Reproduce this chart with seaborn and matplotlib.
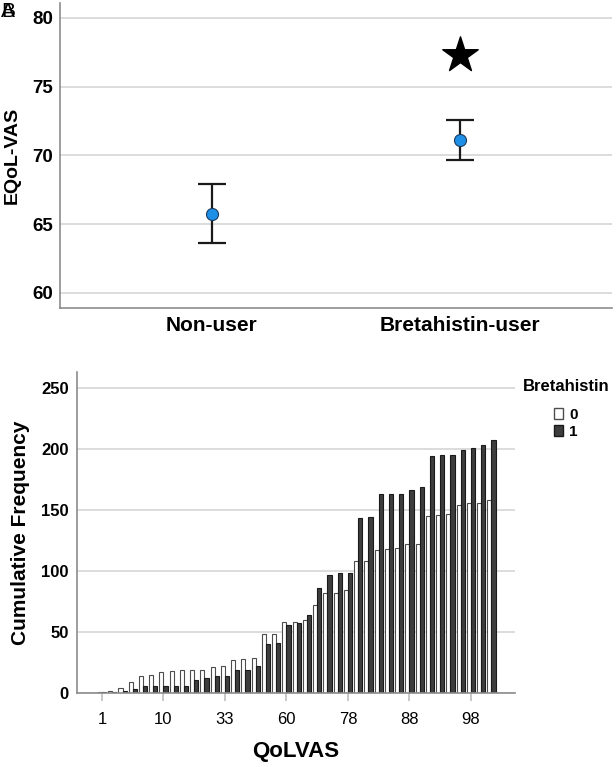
import numpy as np
import pandas as pd
import matplotlib
matplotlib.use("Agg")
import matplotlib.pyplot as plt
import matplotlib.patches as mpatches
import seaborn as sns

# ---------------- data: panel A ----------------
groups = ["Non-user", "Bretahistin-user"]
group_means = [65.75, 71.1]
ci_lower = [63.6, 69.65]
ci_upper = [67.9, 72.57]
star_y = 77.3

# ---------------- data: panel B ----------------
qolvas_tick_labels = ["1", "10", "33", "60", "78", "88", "98"]
qolvas_tick_index = [0, 6, 12, 18, 24, 30, 36]
cum_freq_0 = [1, 2, 4, 9, 14, 15, 17, 18, 19, 19, 19, 21, 22, 27, 28, 29, 48, 48, 58, 58,
              60, 72, 82, 82, 84, 108, 108, 117, 118, 119, 122, 122, 145, 146, 147, 154, 156, 156, 158]
cum_freq_1 = [1, 1, 2, 3, 6, 6, 6, 6, 6, 11, 12, 14, 14, 19, 19, 22, 40, 41, 56, 57,
              64, 86, 97, 98, 98, 143, 144, 163, 163, 163, 166, 169, 194, 195, 195, 199, 201, 203, 207]

sns.set_theme(style="white")
plt.rcParams["font.family"] = ["Liberation Sans", "DejaVu Sans"]
plt.rcParams["text.color"] = "black"
plt.rcParams["axes.labelcolor"] = "black"
plt.rcParams["xtick.color"] = "black"
plt.rcParams["ytick.color"] = "black"

fig = plt.figure(figsize=(6.16, 7.67), dpi=100)
W, H = 616, 767

def fig_rect(x0, y0, x1, y1):
    return [x0 / W, 1 - y1 / H, (x1 - x0) / W, (y1 - y0) / H]

GRID = "#d9d9d9"
SPINE = "#8c8c8c"

# ---------------- panel A ----------------
ax1 = fig.add_axes(fig_rect(60, 3, 612, 308))
dfa = pd.DataFrame({"group": groups, "mean": group_means,
                    "lo": ci_lower, "hi": ci_upper})
yerr = np.vstack([dfa["mean"] - dfa["lo"], dfa["hi"] - dfa["mean"]])
ax1.errorbar(dfa["group"], dfa["mean"], yerr=yerr, fmt="none", ecolor="#1a1a1a",
             elinewidth=1.6, capsize=10, capthick=1.6, zorder=2)
sns.scatterplot(data=dfa, x="group", y="mean", ax=ax1, s=75, color="#1e8fe6",
                edgecolor="#1b3a5c", linewidth=0.8, zorder=3, legend=False)
ax1.scatter([groups[1]], [star_y], marker="*", s=720, color="black", zorder=3)
ax1.set_xlim(-0.61, 1.61)
ax1.set_ylim(58.9, 81.07)
ax1.set_yticks([60, 65, 70, 75, 80])
ax1.yaxis.grid(True, color=GRID, linewidth=1.3)
ax1.set_axisbelow(True)
for s in ["top", "right"]:
    ax1.spines[s].set_visible(False)
for s in ["left", "bottom"]:
    ax1.spines[s].set_color(SPINE)
    ax1.spines[s].set_linewidth(1.2)
ax1.tick_params(axis="both", length=0)
ax1.tick_params(axis="y", labelsize=13.5, pad=5)
ax1.tick_params(axis="x", labelsize=15, pad=6)
for t in ax1.get_yticklabels() + ax1.get_xticklabels():
    t.set_fontweight("bold")
ax1.set_xlabel("")
ax1.set_ylabel("EQoL-VAS", fontsize=14, fontweight="bold", labelpad=8)

fig.text(0.002, 0.998, "A", fontsize=15, ha="left", va="top")
fig.text(0.002, 0.998, "B", fontsize=15, ha="left", va="top")

# ---------------- panel B ----------------
ax2 = fig.add_axes(fig_rect(77, 372, 515, 693))
n = len(cum_freq_0)
dfb = pd.DataFrame({
    "idx": list(range(n)) * 2,
    "Bretahistin": ["0"] * n + ["1"] * n,
    "freq": cum_freq_0 + cum_freq_1,
})
sns.barplot(data=dfb, x="idx", y="freq", hue="Bretahistin", ax=ax2,
            palette={"0": "white", "1": "#3d3d3d"}, width=0.8,
            linewidth=0.8, legend=False)
for cont, ec in zip(ax2.containers, ["#4d4d4d", "#1a1a1a"]):
    for p in cont:
        p.set_edgecolor(ec)
        p.set_linewidth(0.8)
ax2.set_xlim(-2.44, 40.3)
ax2.set_ylim(0, 263)
ax2.set_yticks([0, 50, 100, 150, 200, 250])
ax2.set_xticks(qolvas_tick_index)
ax2.set_xticklabels(qolvas_tick_labels)
ax2.yaxis.grid(True, color=GRID, linewidth=1.3)
ax2.set_axisbelow(True)
for s in ["top", "right"]:
    ax2.spines[s].set_visible(False)
for s in ["left", "bottom"]:
    ax2.spines[s].set_color(SPINE)
    ax2.spines[s].set_linewidth(1.2)
ax2.tick_params(axis="y", length=0, labelsize=12, pad=6)
ax2.tick_params(axis="x", length=6, color="#bfbfbf", width=1.2, labelsize=12,
                pad=8, bottom=True)
for t in ax2.get_yticklabels():
    t.set_fontweight("bold")
ax2.set_xlabel("QoLVAS", fontsize=16, fontweight="bold", labelpad=10)
ax2.set_ylabel("Cumulative Frequency", fontsize=15, fontweight="bold", labelpad=8)

handles = [mpatches.Patch(facecolor="white", edgecolor="#4d4d4d", label="0"),
           mpatches.Patch(facecolor="#3d3d3d", edgecolor="#1a1a1a", label="1")]
fig.text(566 / W, 1 - 387 / H, "Bretahistin", fontsize=12, fontweight="bold",
         ha="center", va="center")
leg = fig.legend(handles=handles, loc="upper center",
                 bbox_to_anchor=(566 / W, 1 - 397 / H), frameon=False,
                 handlelength=0.6, handleheight=0.7, handletextpad=0.4,
                 labelspacing=0.2, borderpad=0.2,
                 prop={"weight": "bold", "size": 11})

fig.savefig("out.png", dpi=100)
